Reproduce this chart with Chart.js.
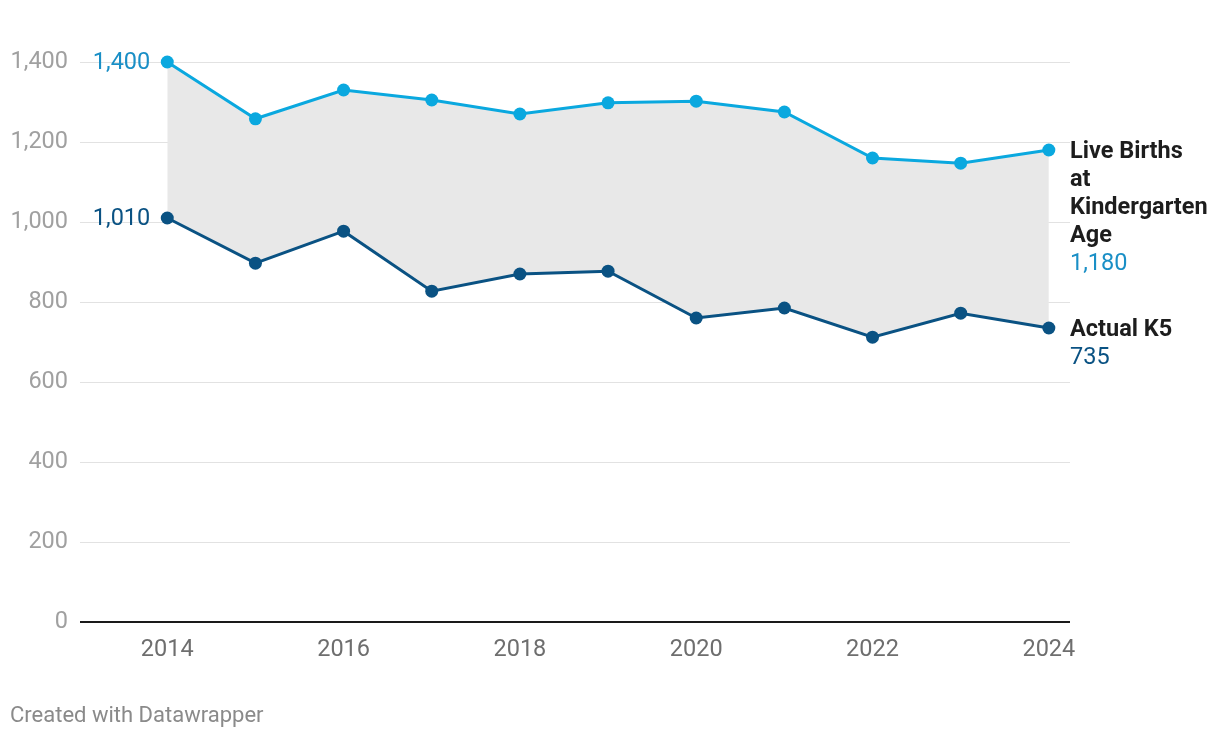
<!DOCTYPE html>
<html>
<head>
<meta charset="utf-8">
<script src="https://cdn.jsdelivr.net/npm/chart.js@4/dist/chart.umd.min.js"></script>
<style>
  html, body { margin: 0; padding: 0; background: #fff; }
  #wrap { width: 1220px; height: 738px; position: relative; }
</style>
</head>
<body>
<div id="wrap"><canvas id="mycanvas" width="1220" height="738"></canvas></div>
<script>
// data
var years = [2014, 2015, 2016, 2017, 2018, 2019, 2020, 2021, 2022, 2023, 2024];
var liveBirths = [1400, 1258, 1330, 1305, 1270, 1298, 1302, 1275, 1160, 1147, 1180];
var actualK5 = [1010, 897, 977, 827, 870, 877, 760, 785, 712, 772, 735];
var yTicks = [0, 200, 400, 600, 800, 1000, 1200, 1400];
var xTicks = [2014, 2016, 2018, 2020, 2022, 2024];
var seriesNames = [["Live Births", "at", "Kindergarten", "Age"], ["Actual K5"]];

var lightBlue = '#0aa8df';
var darkBlue = '#0a5283';
var fontFam = 'Roboto, "Noto Sans", sans-serif';

function fmt(v) { return v.toLocaleString('en-US'); }

var labelPlugin = {
  id: 'labels',
  afterDatasetsDraw: function(chart) {
    var ctx = chart.ctx;
    var xs = chart.scales.x, ys = chart.scales.y;
    ctx.save();
    ctx.textBaseline = 'middle';
    // start values on the left
    ctx.font = '23.5px ' + fontFam;
    ctx.textAlign = 'right';
    ctx.fillStyle = '#1a8fc6';
    ctx.fillText(fmt(liveBirths[0]), xs.getPixelForValue(years[0]) - 17, ys.getPixelForValue(liveBirths[0]) + 1);
    ctx.fillStyle = darkBlue;
    ctx.fillText(fmt(actualK5[0]), xs.getPixelForValue(years[0]) - 17, ys.getPixelForValue(actualK5[0]) + 1);

    // end labels on the right
    var last = years.length - 1;
    var lx = xs.right;
    ctx.textAlign = 'left';
    var y0 = ys.getPixelForValue(liveBirths[last]) + 2;
    ctx.font = 'bold 23.5px ' + fontFam;
    ctx.fillStyle = '#1d1d1d';
    seriesNames[0].forEach(function(t, i) { ctx.fillText(t, lx, y0 + i * 28); });
    ctx.font = '23.5px ' + fontFam;
    ctx.fillStyle = '#1a8fc6';
    ctx.fillText(fmt(liveBirths[last]), lx, y0 + seriesNames[0].length * 28);

    var y1 = ys.getPixelForValue(actualK5[last]) + 2;
    ctx.font = 'bold 23.5px ' + fontFam;
    ctx.fillStyle = '#1d1d1d';
    ctx.fillText(seriesNames[1][0], lx, y1);
    ctx.font = '23.5px ' + fontFam;
    ctx.fillStyle = darkBlue;
    ctx.fillText(fmt(actualK5[last]), lx, y1 + 28);

    // footer
    ctx.font = '22px ' + fontFam;
    ctx.fillStyle = '#8a8a8a';
    ctx.textAlign = 'left';
    ctx.fillText('Created with Datawrapper', 10, 716);
    ctx.restore();
  }
};

var ctx = document.getElementById('mycanvas');
var chart = new Chart(ctx, {
  type: 'line',
  data: {
    datasets: [
      {
        label: 'Live Births at Kindergarten Age',
        data: years.map(function(y, i) { return { x: y, y: liveBirths[i] }; }),
        borderColor: lightBlue,
        backgroundColor: lightBlue,
        borderWidth: 3,
        pointRadius: 6.5,
        pointBorderWidth: 0,
        pointBackgroundColor: lightBlue,
        fill: { target: '+1', above: '#e8e8e8', below: '#e8e8e8' },
        clip: false
      },
      {
        label: 'Actual K5',
        data: years.map(function(y, i) { return { x: y, y: actualK5[i] }; }),
        borderColor: darkBlue,
        backgroundColor: darkBlue,
        borderWidth: 3,
        pointRadius: 6.5,
        pointBorderWidth: 0,
        pointBackgroundColor: darkBlue,
        fill: false,
        clip: false
      }
    ]
  },
  options: {
    responsive: false,
    animation: false,
    devicePixelRatio: 1,
    layout: { padding: { top: 62, right: 150, bottom: 56, left: 0 } },
    plugins: {
      legend: { display: false },
      tooltip: { enabled: false },
      filler: { drawTime: 'beforeDatasetsDraw' }
    },
    scales: {
      x: {
        type: 'linear',
        min: 2013.01,
        max: 2024.24,
        afterBuildTicks: function(scale) {
          scale.ticks = xTicks.map(function(v) { return { value: v }; });
        },
        afterFit: function(scale) { scale.height = 60; },
        grid: { display: false, drawTicks: false },
        border: { display: false },
        ticks: {
          padding: 14,
          color: '#6e6e6e',
          font: { family: fontFam, size: 23.5 },
          callback: function(v) { return String(v); }
        }
      },
      y: {
        min: 0,
        max: 1400,
        afterBuildTicks: function(scale) {
          scale.ticks = yTicks.map(function(v) { return { value: v }; });
        },
        afterFit: function(scale) { scale.width = 80; },
        grid: {
          drawTicks: false,
          color: function(c) { return c.tick && c.tick.value === 0 ? '#1a1a1a' : '#e2e2e2'; },
          lineWidth: function(c) { return c.tick && c.tick.value === 0 ? 2 : 1; }
        },
        border: { display: false },
        ticks: {
          padding: 12,
          color: '#a0a0a0',
          font: { family: fontFam, size: 23.5 },
          callback: function(v) { return fmt(v); }
        }
      }
    }
  },
  plugins: [labelPlugin]
});
</script>
</body>
</html>
